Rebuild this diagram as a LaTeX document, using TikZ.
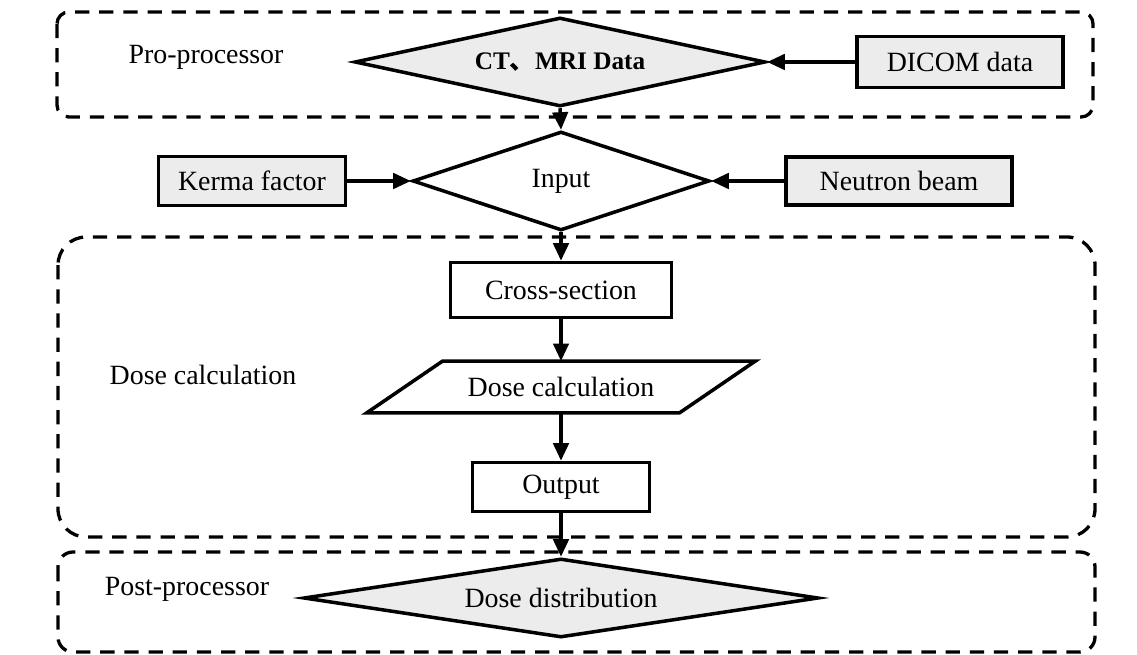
\documentclass[tikz,border=0pt]{standalone}
\usepackage{fontspec}
\setmainfont{Liberation Serif}
\newfontfamily\cjk{Noto Sans CJK SC}
\usetikzlibrary{shapes.geometric,arrows.meta}

\begin{document}
\begin{tikzpicture}[x=0.016cm, y=-0.016cm, font=\fontsize{12.7}{15}\selectfont,
  flow/.style={line width=1.6pt, -{Triangle[length=8pt,width=7pt]}},
  group/.style={line width=1.5pt, dash pattern=on 6.5pt off 4.5pt},
  box/.style={draw, line width=1.6pt, inner sep=0pt},
  dia/.style={draw, diamond, line width=1.6pt, fill=gray!15, inner sep=0pt}]

\useasboundingbox (0,0) rectangle (1137,655);

% Dashed group frames
\draw[group, rounded corners=0.19cm] (57,12) rectangle (1093,117);
\draw[group, rounded corners=0.45cm] (58,237) rectangle (1095,537);
\draw[group, rounded corners=0.24cm] (58,552) rectangle (1095,652);

% Group labels
\node (pre) at (206,57) {Pro-processor};
\node (dosel) at (203,375) {Dose calculation};
\node (post) at (187,589) {Post-processor};

% Pre-processor
\node[dia, aspect=4.6, minimum width=6.576cm, minimum height=1.424cm] (ct) at (560,62)
    {\fontsize{11.5}{14}\selectfont\bfseries CT{\cjk 、}MRI Data};
\node[box, fill=gray!15, minimum width=3.296cm, minimum height=0.816cm] (dicom) at (960,62) {DICOM data};

% Input and its sources
\node[dia, fill=white, aspect=2.97, minimum width=4.752cm, minimum height=1.584cm] (input) at (561,181) {Input};
\node[box, fill=gray!15, minimum width=2.992cm, minimum height=0.784cm] (kerma) at (252,181) {Kerma factor};
\node[box, fill=gray!15, minimum width=3.616cm, minimum height=0.768cm] (beam) at (899,181) {Neutron beam};

% Dose calculation
\node[box, minimum width=3.536cm, minimum height=0.88cm] (cross) at (561,290) {Cross-section};
\node[minimum width=4.992cm, minimum height=0.816cm, inner sep=0pt] (calc) at (561,387) {Dose calculation};
\draw[line width=1.6pt] ([xshift=0.608cm]calc.north west) -- ([xshift=0.608cm]calc.north east)
    -- ([xshift=-0.608cm]calc.south east) -- ([xshift=-0.608cm]calc.south west) -- cycle;
\node[box, minimum width=2.832cm, minimum height=0.784cm] (out) at (561,487) {Output};

% Post-processor
\node[dia, aspect=6.5, minimum width=8.24cm, minimum height=1.264cm] (dist) at (561,598) {Dose distribution};

% Connectors
\draw[flow] (dicom.west) -- (ct.east);
\draw[flow] (ct.south) -- (input.north);
\draw[flow] (kerma.east) -- (input.west);
\draw[flow] (beam.west) -- (input.east);
\draw[flow] (input.south) -- (cross.north);
\draw[flow] (cross.south) -- (calc.north);
\draw[flow] (calc.south) -- (out.north);
\draw[flow] (out.south) -- (dist.north);
\end{tikzpicture}
\end{document}
